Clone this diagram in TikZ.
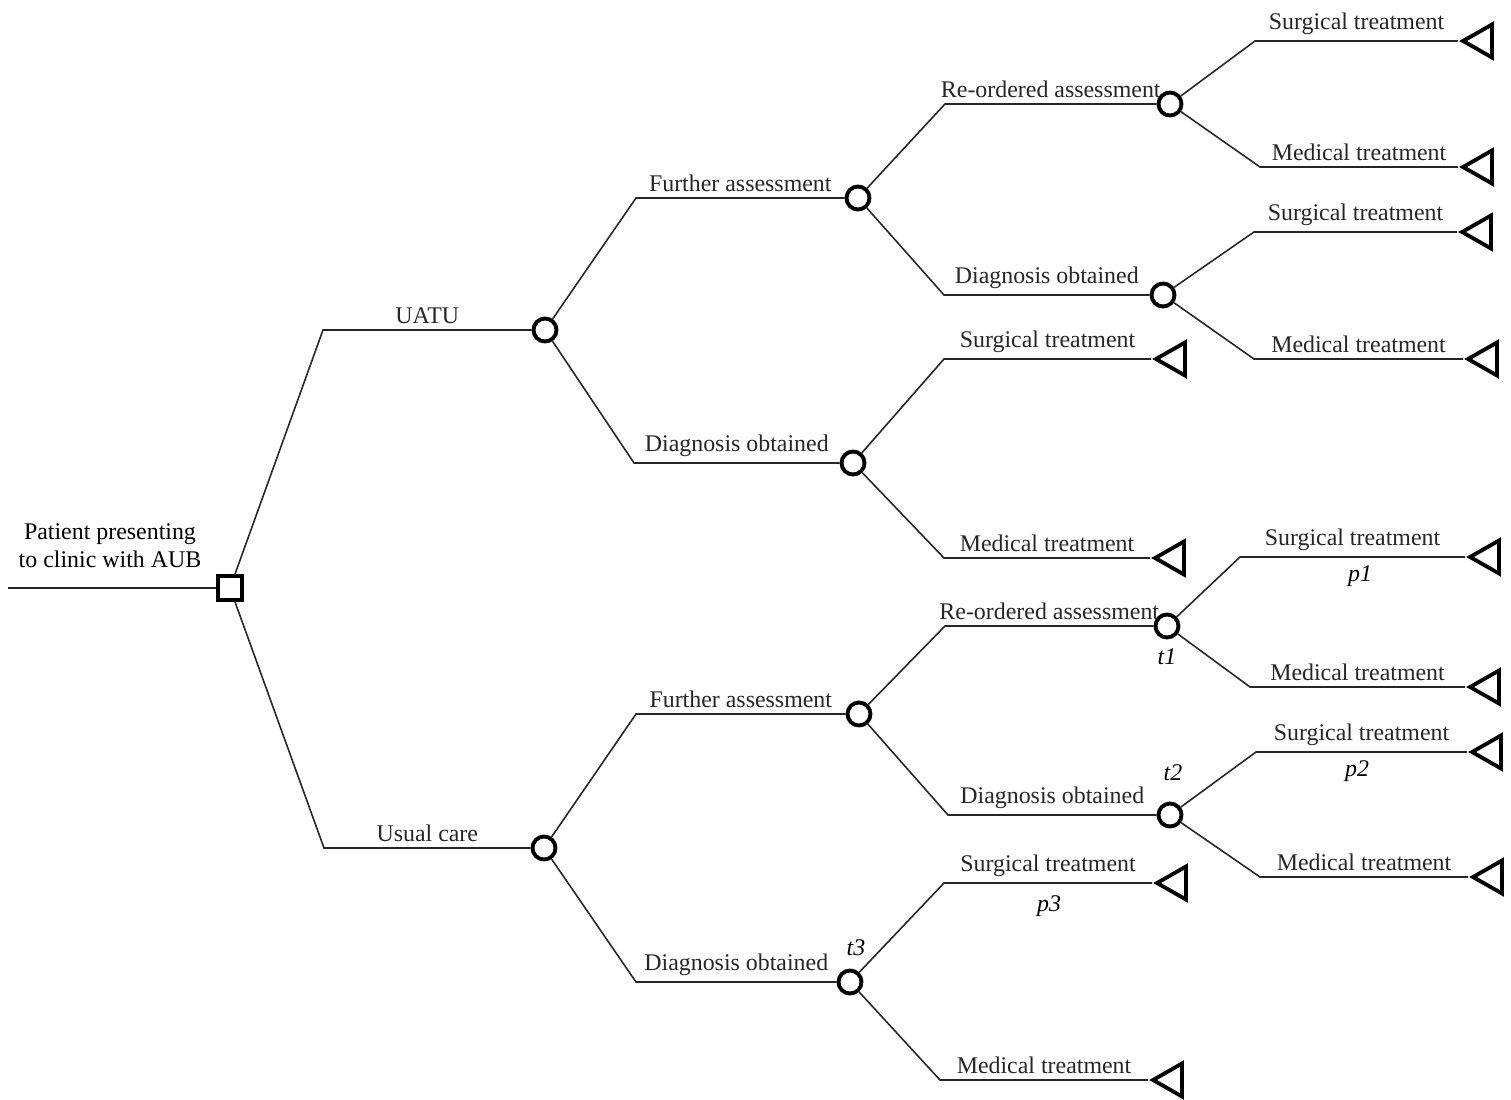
\documentclass[tikz,border=0pt]{standalone}
\usepackage{fontspec}
\setmainfont{Liberation Serif}
\usetikzlibrary{shapes.geometric}

\tikzset{
    decision/.style={rectangle, draw, line width=2.2pt, minimum size=0.48cm, inner sep=0pt},
    chance/.style={circle, draw, line width=2.2pt, minimum size=0.46cm, inner sep=0pt},
    leaf/.style={isosceles triangle, shape border rotate=180, isosceles triangle stretches,
        draw, line width=2.2pt, minimum width=0.66cm, minimum height=0.58cm, inner sep=0pt, anchor=apex},
    branch/.style={line width=0.9pt, black!85},
    lbl/.style={above, inner sep=3pt},
    prob/.style={font=\fontsize{13.6}{16}\selectfont\itshape, inner sep=1pt}
}

\begin{document}
\begin{tikzpicture}[x=0.02cm, y=-0.02cm, font=\fontsize{13.6}{16}\selectfont]
    \useasboundingbox (0,0) rectangle (1511,1099);
    % Nodes
    \coordinate (start) at (8,588);
    \node (patient) at (110,546) [align=center] {Patient presenting\\to clinic with AUB};
    \node (dec) at (230,588) [decision] {};
    \node (c1) at (545,330) [chance] {};
    \node (c2) at (544,848) [chance] {};
    \node (c3) at (858,198) [chance] {};
    \node (c4) at (853,463) [chance] {};
    \node (c5) at (1170,104) [chance] {};
    \node (c6) at (1163,295) [chance] {};
    \node (c7) at (859,714) [chance] {};
    \node (c8) at (850,982) [chance] {};
    \node (c9) at (1167,626) [chance] {};
    \node (c10) at (1170,815) [chance] {};
    % Elbows
    \coordinate (e1) at (323,330);
    \coordinate (e2) at (324,848);
    \coordinate (e3) at (636,198);
    \coordinate (e4) at (634,463);
    \coordinate (e5) at (945,104);
    \coordinate (e6) at (944,295);
    \coordinate (e7) at (636,714);
    \coordinate (e8) at (636,982);
    \coordinate (e9) at (945,626);
    \coordinate (e10) at (948,815);
    % Leaves
    \node (l1) at (1458,41) [leaf] {};
    \node (l2) at (1458,167) [leaf] {};
    \node (l3) at (1457,232) [leaf] {};
    \node (l4) at (1463,359) [leaf] {};
    \node (l5) at (1151,359) [leaf] {};
    \node (l6) at (1150,558) [leaf] {};
    \node (l7) at (1465,557) [leaf] {};
    \node (l8) at (1465,687) [leaf] {};
    \node (l9) at (1467,752) [leaf] {};
    \node (l10) at (1468,877) [leaf] {};
    \node (l11) at (1152,883) [leaf] {};
    \node (l12) at (1148,1080) [leaf] {};
    \coordinate (f1) at (1255,41);
    \coordinate (f2) at (1260,167);
    \coordinate (f3) at (1254,232);
    \coordinate (f4) at (1254,359);
    \coordinate (f5) at (944,359);
    \coordinate (f6) at (944,558);
    \coordinate (f7) at (1240,557);
    \coordinate (f8) at (1250,687);
    \coordinate (f9) at (1256,752);
    \coordinate (f10) at (1260,877);
    \coordinate (f11) at (944,883);
    \coordinate (f12) at (940,1080);
    % Probabilities
    \node (t1) at (1167,657) [prob] {t1};
    \node (t2) at (1173,773) [prob] {t2};
    \node (t3) at (856,948) [prob] {t3};
    \node (p1) at (1360,576) [prob] {p1};
    \node (p2) at (1357,771) [prob] {p2};
    \node (p3) at (1049,906) [prob] {p3};

    % Edges
    \draw[branch] (start) -- (dec);
    \foreach \src/\elb/\dst/\txt in {dec/e1/c1/UATU, dec/e2/c2/Usual care,
        c1/e3/c3/Further assessment, c1/e4/c4/Diagnosis obtained,
        c3/e5/c5/Re-ordered assessment, c3/e6/c6/Diagnosis obtained,
        c2/e7/c7/Further assessment, c2/e8/c8/Diagnosis obtained,
        c7/e9/c9/Re-ordered assessment, c7/e10/c10/Diagnosis obtained} {
        \draw[branch] (\src) -- (\elb) -- node[lbl] {\txt} (\dst);
    }
    \foreach \src/\elb/\dst/\txt in {c5/f1/l1/Surgical treatment, c5/f2/l2/Medical treatment,
        c6/f3/l3/Surgical treatment, c6/f4/l4/Medical treatment,
        c4/f5/l5/Surgical treatment, c4/f6/l6/Medical treatment,
        c9/f7/l7/Surgical treatment, c9/f8/l8/Medical treatment,
        c10/f9/l9/Surgical treatment, c10/f10/l10/Medical treatment,
        c8/f11/l11/Surgical treatment, c8/f12/l12/Medical treatment} {
        \draw[branch] (\src) -- (\elb) -- node[lbl] {\txt} (\dst.apex);
    }
\end{tikzpicture}
\end{document}
